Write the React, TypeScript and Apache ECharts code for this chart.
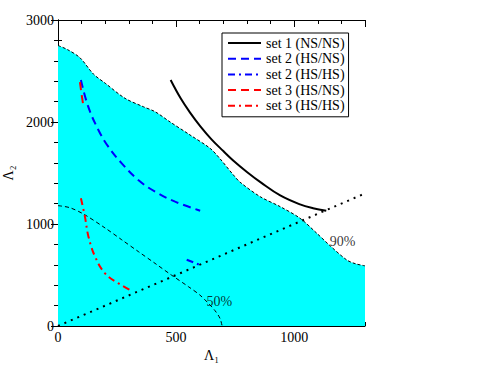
import React, { useEffect, useRef } from "react";
import * as echarts from "echarts";

const FONT = "Times New Roman, Liberation Serif, Times, serif";

const xTicks = [0, 500, 1000];
const yTicks = [0, 1000, 2000, 3000];

const boundary90: number[][] = [
  [0, 2750], [40, 2710], [93, 2630], [150, 2470], [200, 2380], [284, 2232], [361, 2150],
  [411, 2101], [475, 2000], [559, 1873], [644, 1742], [686, 1640], [743, 1480], [771, 1410],
  [856, 1268], [941, 1170], [1025, 1056], [1096, 909], [1153, 785], [1223, 647], [1260, 610],
  [1300, 590],
];

const contour50: number[][] = [
  [0, 1180], [50, 1160], [110, 1095], [200, 960], [270, 845], [340, 730], [411, 614],
  [480, 500], [552, 386], [600, 305], [637, 222], [665, 150], [686, 75], [695, 0],
];

const diagonal: number[][] = [[0, 0], [1300, 1300]];

const set1NSNS: number[][] = [
  [477, 2412], [520, 2230], [560, 2090], [602, 1960], [650, 1830], [700, 1715], [743, 1620],
  [800, 1510], [860, 1405], [941, 1280], [1025, 1192], [1080, 1155], [1136, 1130],
];

const set2HSNS: number[][] = [
  [97, 2412], [128, 2150], [171, 1922], [213, 1758], [270, 1595], [340, 1431],
  [411, 1317], [496, 1219], [602, 1130],
];

const set2HSHS: number[][] = [[545, 650], [610, 590]];

const set3HSNS: number[][] = [[93, 2390], [100, 2270], [108, 2150]];

const set3HSHS: number[][] = [
  [97, 1252], [114, 1072], [129, 876], [157, 680], [199, 516], [256, 418], [315, 340],
];

const contourLabels: { name: string; value: number[] }[] = [
  { name: "50%", value: [683, 245] },
  { name: "90%", value: [1205, 826] },
];

const legendNames = [
  "set 1 (NS/NS)",
  "set 2 (HS/NS)",
  "set 2 (HS/HS)",
  "set 3 (HS/NS)",
  "set 3 (HS/HS)",
];

export default function App() {
  const ref = useRef<HTMLDivElement>(null);
  useEffect(() => {
    if (!ref.current) return;
    const chart = echarts.init(ref.current, undefined, { renderer: "svg" });
    const axisLine = { show: true, lineStyle: { color: "#000", width: 1 } };
    const baseX = {
      type: "value" as const,
      min: 0,
      max: 1300,
      splitLine: { show: false },
    };
    const baseY = {
      type: "value" as const,
      min: 0,
      max: 3000,
      interval: 1000,
      splitLine: { show: false },
    };
    const lab = { fontFamily: FONT, fontSize: 14, color: "#000" };
    const dashDot = [7, 4, 2, 4];
    const hiddenSymbol = { opacity: 0 };
    const option: any = {
      animation: false,
      textStyle: { fontFamily: FONT },
      grid: { left: 58, right: 133, top: 20, bottom: 59, outerBoundsMode: "none", containLabel: false },
      legend: {
        data: legendNames,
        orient: "vertical",
        left: 222,
        top: 33,
        padding: [3, 4, 4, 5],
        itemWidth: 33,
        itemHeight: 14,
        itemGap: 1.7,
        borderColor: "#000",
        borderWidth: 1,
        borderRadius: 0,
        backgroundColor: "#fff",
        itemStyle: { opacity: 0 },
        textStyle: { ...lab },
      },
      xAxis: [
        {
          ...baseX,
          position: "bottom",
          interval: 500,
          axisLine,
          axisTick: { show: true, inside: true, length: 7, lineStyle: { color: "#000" } },
          axisLabel: {
            ...lab,
            margin: 4,
            showMaxLabel: false,
            formatter: (v: number) => (xTicks.includes(v) ? String(v) : ""),
          },
          name: "Λ₁",
          nameLocation: "middle",
          nameGap: 17,
          nameTextStyle: { ...lab },
        },
        {
          ...baseX,
          position: "bottom",
          interval: 100,
          axisLine: { show: false },
          axisTick: { show: true, inside: true, length: 4, lineStyle: { color: "#000" } },
          axisLabel: { show: false },
        },
        {
          ...baseX,
          position: "top",
          interval: 500,
          axisLine,
          axisTick: { show: true, inside: true, length: 7, lineStyle: { color: "#000" } },
          axisLabel: { show: false },
        },
        {
          ...baseX,
          position: "top",
          interval: 100,
          axisLine: { show: false },
          axisTick: { show: true, inside: true, length: 4, lineStyle: { color: "#000" } },
          axisLabel: { show: false },
        },
      ],
      yAxis: [
        {
          ...baseY,
          position: "left",
          axisLine,
          axisTick: { show: true, inside: true, length: 7, lineStyle: { color: "#000" } },
          minorTick: { show: true, splitNumber: 5, length: 4, lineStyle: { color: "#000" } },
          axisLabel: {
            ...lab,
            margin: 4,
            formatter: (v: number) => (yTicks.includes(v) ? String(v) : ""),
          },
          name: "Λ₂",
          nameLocation: "middle",
          nameGap: 38,
          nameRotate: 90,
          nameTextStyle: { ...lab },
        },
        {
          ...baseY,
          position: "right",
          axisLine,
          axisTick: { show: true, inside: true, length: 7, lineStyle: { color: "#000" } },
          minorTick: { show: true, splitNumber: 5, length: 4, lineStyle: { color: "#000" } },
          axisLabel: { show: false },
        },
      ],
      series: [
        {
          name: "90% region",
          type: "line",
          data: boundary90,
          smooth: 0.3,
          symbol: "none",
          z: 1,
          lineStyle: { color: "#000", width: 1, type: [3, 2] },
          areaStyle: { color: "#00ffff", opacity: 1, origin: "start" },
        },
        {
          name: "50% contour",
          type: "line",
          data: contour50,
          smooth: 0.3,
          symbol: "none",
          z: 3,
          lineStyle: { color: "#000", width: 1, type: [4, 3] },
        },
        {
          name: "diagonal",
          type: "line",
          data: diagonal,
          symbol: "none",
          z: 3,
          lineStyle: { color: "#000", width: 2, type: [2, 5] },
        },
        {
          name: legendNames[0],
          type: "line",
          data: set1NSNS,
          smooth: 0.4,
          symbol: "none",
          z: 4,
          itemStyle: { color: "#000", ...hiddenSymbol },
          lineStyle: { color: "#000", width: 2, type: "solid" },
        },
        {
          name: legendNames[1],
          type: "line",
          data: set2HSNS,
          smooth: 0.4,
          symbol: "none",
          z: 4,
          itemStyle: { color: "#0000ff", ...hiddenSymbol },
          lineStyle: { color: "#0000ff", width: 2, type: [8, 5] },
        },
        {
          name: legendNames[2],
          type: "line",
          data: set2HSHS,
          symbol: "none",
          z: 4,
          itemStyle: { color: "#0000ff", ...hiddenSymbol },
          lineStyle: { color: "#0000ff", width: 2, type: dashDot },
        },
        {
          name: legendNames[3],
          type: "line",
          data: set3HSNS,
          smooth: 0.4,
          symbol: "none",
          z: 4,
          itemStyle: { color: "#ff0000", ...hiddenSymbol },
          lineStyle: { color: "#ff0000", width: 2, type: [8, 5] },
        },
        {
          name: legendNames[4],
          type: "line",
          data: set3HSHS,
          smooth: 0.4,
          symbol: "none",
          z: 4,
          itemStyle: { color: "#ff0000", ...hiddenSymbol },
          lineStyle: { color: "#ff0000", width: 2, type: dashDot },
        },
        {
          name: "labels",
          type: "scatter",
          data: contourLabels,
          symbolSize: 0,
          z: 5,
          label: {
            show: true,
            position: "inside",
            formatter: (p: any) => p.name,
            ...lab,
          },
        },
      ],
    };
    chart.setOption(option);
    return () => chart.dispose();
  }, []);
  return (
    <div
      ref={ref}
      style={{ position: "fixed", left: 0, top: 0, width: 498, height: 385, background: "#fff" }}
    />
  );
}
